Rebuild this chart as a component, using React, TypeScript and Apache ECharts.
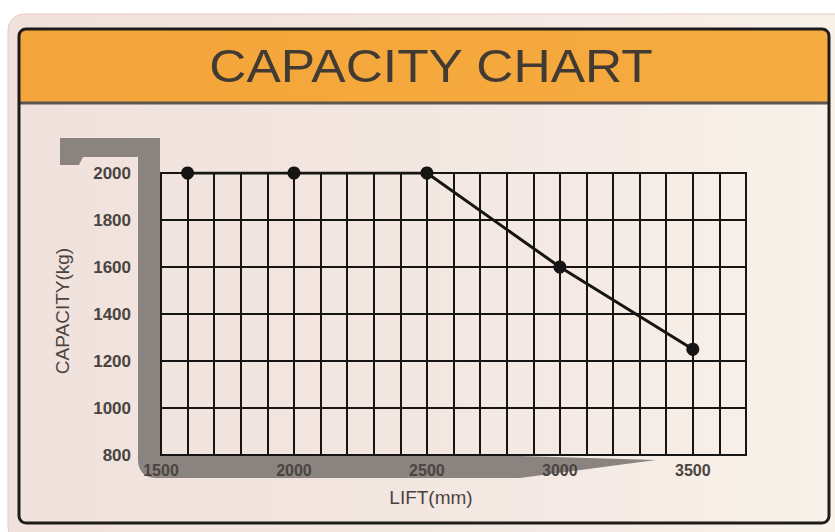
import { useEffect, useRef } from 'react';
import * as echarts from 'echarts';

const titleText = 'CAPACITY CHART';
const xAxisName = 'LIFT(mm)';
const yAxisName = 'CAPACITY(kg)';
const liftTickLabels = [1500, 2000, 2500, 3000, 3500];
const liftValues = [1600, 2000, 2500, 3000, 3500];
const capacityValues = [2000, 2000, 2000, 1600, 1250];

const forkPath =
  'M60 138 L160 138 L160 456 L520 456 L656 460 L520 478 L156 478 C145 478 138 471 138 460 L138 157 L83 157 L79 165 L60 165 Z';

echarts.graphic.registerShape('fork', echarts.graphic.extendPath(forkPath, {}));

export default function App() {
  const ref = useRef<HTMLDivElement>(null);

  useEffect(() => {
    if (!ref.current) return;
    const chart = echarts.init(ref.current, null, { renderer: 'svg' });
    const ink = '#161514';
    const labelColor = '#4a4440';
    chart.setOption({
      animation: false,
      backgroundColor: '#ffffff',
      grid: {
        left: 161,
        top: 173,
        width: 585,
        height: 282,
        show: true,
        borderColor: ink,
        borderWidth: 2,
        backgroundColor: 'transparent',
        outerBoundsMode: 'none',
      },
      xAxis: {
        type: 'value',
        min: 1500,
        max: 3700,
        interval: 100,
        axisLine: { show: true, lineStyle: { color: ink, width: 2 } },
        axisTick: { show: false },
        splitLine: { show: true, lineStyle: { color: ink, width: 2 } },
        axisLabel: {
          margin: 7,
          fontSize: 16,
          fontWeight: 'bold',
          fontFamily: 'Liberation Sans',
          color: labelColor,
          formatter: (v: number) => (liftTickLabels.includes(v) ? String(v) : ''),
        },
      },
      yAxis: {
        type: 'value',
        min: 800,
        max: 2000,
        interval: 200,
        axisLine: { show: true, lineStyle: { color: ink, width: 2 } },
        axisTick: { show: false },
        splitLine: { show: true, lineStyle: { color: ink, width: 2 } },
        axisLabel: {
          margin: 30,
          fontSize: 17,
          fontWeight: 'bold',
          fontFamily: 'Liberation Sans',
          color: labelColor,
          formatter: (v: number) => String(v),
        },
      },
      graphic: [
        {
          type: 'rect',
          z: -100,
          shape: { x: 8, y: 14, width: 845, height: 530, r: 16 },
          style: {
            fill: {
              type: 'linear',
              x: 0,
              y: 0,
              x2: 1,
              y2: 0,
              colorStops: [
                { offset: 0, color: '#f0e1dc' },
                { offset: 0.6, color: '#f4e8e3' },
                { offset: 1, color: '#f8f2ea' },
              ],
            },
            stroke: '#e8c8c4',
            lineWidth: 1,
          },
        },
        {
          type: 'rect',
          z: -90,
          shape: { x: 20, y: 30, width: 808, height: 73, r: [5, 5, 0, 0] },
          style: {
            fill: {
              type: 'linear',
              x: 0,
              y: 0,
              x2: 1,
              y2: 0,
              colorStops: [
                { offset: 0, color: '#f3a43a' },
                { offset: 0.5, color: '#f5a83c' },
                { offset: 1, color: '#f5ab40' },
              ],
            },
          },
        },
        {
          type: 'line',
          z: -80,
          shape: { x1: 20, y1: 103, x2: 828, y2: 103 },
          style: { stroke: '#5c5550', lineWidth: 3 },
        },
        {
          type: 'rect',
          z: -70,
          shape: { x: 19, y: 29, width: 810, height: 494, r: 7 },
          style: { fill: 'none', stroke: '#1e1c1a', lineWidth: 3 },
        },
        {
          type: 'fork',
          z: -60,
          x: 0,
          y: 0,
          style: { fill: '#8a8380' },
        },
        {
          type: 'text',
          z: 10,
          x: 431,
          y: 66,
          scaleX: 1.12,
          style: {
            text: titleText,
            fontSize: 46,
            fontFamily: 'Liberation Sans',
            fill: '#423b34',
            align: 'center',
            verticalAlign: 'middle',
          },
        },
        {
          type: 'text',
          z: 10,
          x: 62,
          y: 311,
          rotation: Math.PI / 2,
          style: {
            text: yAxisName,
            fontSize: 19,
            fontFamily: 'Liberation Sans',
            fill: labelColor,
            align: 'center',
            verticalAlign: 'middle',
          },
        },
        {
          type: 'text',
          z: 10,
          x: 431,
          y: 497,
          style: {
            text: xAxisName,
            fontSize: 19,
            fontFamily: 'Liberation Sans',
            fill: labelColor,
            align: 'center',
            verticalAlign: 'middle',
          },
        },
      ],
      series: [
        {
          type: 'line',
          data: liftValues.map((x, i) => [x, capacityValues[i]]),
          symbol: 'circle',
          symbolSize: 13,
          lineStyle: { color: ink, width: 3 },
          itemStyle: { color: ink },
          z: 5,
        },
      ],
    });
    return () => chart.dispose();
  }, []);

  return (
    <div
      ref={ref}
      style={{ position: 'fixed', left: 0, top: 0, width: 835, height: 532 }}
    />
  );
}
